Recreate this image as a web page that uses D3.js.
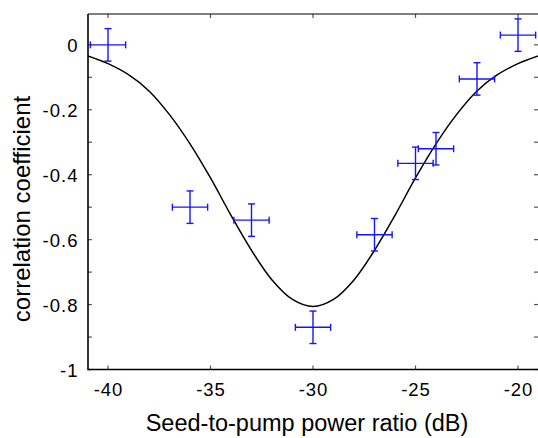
<!DOCTYPE html>
<html><head><meta charset="utf-8">
<script src="https://cdn.jsdelivr.net/npm/d3@7"></script>
<style>
html,body{margin:0;padding:0;background:#fff;}
svg{display:block;}
text{font-family:"Liberation Sans",Arial,Helvetica,sans-serif;fill:#000;}
</style></head>
<body>
<svg id="chart" width="538" height="438"></svg>
<script>
// Measured points (seed-to-pump power ratio in dB, correlation coefficient)
const xValues = [-40, -36, -33, -30, -27, -25, -24, -22, -20];
const yValues = [0.00, -0.50, -0.54, -0.87, -0.585, -0.365, -0.32, -0.105, 0.03];
const xErr = [0.86, 0.86, 0.86, 0.86, 0.86, 0.86, 0.86, 0.86, 0.86];
const yErr = [0.05, 0.05, 0.05, 0.05, 0.05, 0.05, 0.05, 0.05, 0.05];

// Theoretical curve
const curveX = [-41,-40,-39,-38,-37,-36,-35,-34,-33,-32,-31,-30,-29,-28,-27,-26,-25,-24,-23,-22,-21,-20,-19];
const curveY = [-0.034,-0.058,-0.092,-0.142,-0.215,-0.305,-0.41,-0.525,-0.633,-0.724,-0.784,-0.806,
                -0.784,-0.724,-0.633,-0.525,-0.41,-0.305,-0.215,-0.142,-0.092,-0.058,-0.034];

const xTicks = [-40, -35, -30, -25, -20];
const xTickLabels = ["-40", "-35", "-30", "-25", "-20"];
const yMajorTicks = [0, -0.2, -0.4, -0.6, -0.8, -1];
const yTickLabels = ["0", "-0.2", "-0.4", "-0.6", "-0.8", "-1"];
const yMinorTicks = [0, -0.1, -0.2, -0.3, -0.4, -0.5, -0.6, -0.7, -0.8, -0.9, -1];

const svg = d3.select("#chart");
const L = 88, R = 538.5, T = 14, B = 369.5;
const x = d3.scaleLinear().domain([-41, -19]).range([87.5, 538.5]);
const y = d3.scaleLinear().domain([-1, 0.095]).range([B, T]);

const tickLen = 4;
const tickColor = "#555";

// ticks: bottom & top (inward)
const gx = svg.append("g");
gx.selectAll("line.b").data(xTicks).join("line")
  .attr("x1", d => x(d)).attr("x2", d => x(d))
  .attr("y1", B).attr("y2", B - tickLen)
  .attr("stroke", tickColor).attr("stroke-width", 1.2);
gx.selectAll("line.t").data(xTicks).join("line").attr("class","t")
  .attr("x1", d => x(d)).attr("x2", d => x(d))
  .attr("y1", T).attr("y2", T + tickLen)
  .attr("stroke", tickColor).attr("stroke-width", 1.2);

// y ticks left and right
const gy = svg.append("g");
gy.selectAll("line.l").data(yMinorTicks).join("line").attr("class","l")
  .attr("x1", L).attr("x2", L + tickLen)
  .attr("y1", d => y(d)).attr("y2", d => y(d))
  .attr("stroke", tickColor).attr("stroke-width", 1.2);
gy.selectAll("line.r").data(yMinorTicks).join("line").attr("class","r")
  .attr("x1", 539).attr("x2", 539 - tickLen - 1)
  .attr("y1", d => y(d)).attr("y2", d => y(d))
  .attr("stroke", tickColor).attr("stroke-width", 1.2);

// frame
svg.append("line").attr("x1", L).attr("x2", L).attr("y1", T).attr("y2", B + 0.8)
  .attr("stroke", "#000").attr("stroke-width", 1.6);
svg.append("line").attr("x1", L).attr("x2", 540).attr("y1", B).attr("y2", B)
  .attr("stroke", "#000").attr("stroke-width", 1.6);
svg.append("line").attr("x1", L).attr("x2", 540).attr("y1", T).attr("y2", T)
  .attr("stroke", "#000").attr("stroke-width", 1.2);
svg.append("line").attr("x1", 539.5).attr("x2", 539.5).attr("y1", T).attr("y2", B)
  .attr("stroke", "#000").attr("stroke-width", 1.2);

// tick labels
svg.append("g").selectAll("text").data(xTicks).join("text")
  .attr("x", d => x(d) + 0.5).attr("y", 396)
  .attr("text-anchor", "middle")
  .attr("font-size", "18.5px").attr("letter-spacing", "1px")
  .text((d, i) => xTickLabels[i]);

svg.append("g").selectAll("text").data(yMajorTicks).join("text")
  .attr("x", 78.5).attr("y", d => y(d) + 7)
  .attr("text-anchor", "end")
  .attr("font-size", "18.5px").attr("letter-spacing", "1px")
  .text((d, i) => yTickLabels[i]);

// axis titles
svg.append("text").attr("x", 307).attr("y", 431)
  .attr("text-anchor", "middle").attr("font-size", "23.5px")
  .text("Seed-to-pump power ratio (dB)");
svg.append("text")
  .attr("transform", "translate(30,209) rotate(-90)")
  .attr("text-anchor", "middle").attr("font-size", "24px")
  .text("correlation coefficient");

// clip
svg.append("clipPath").attr("id", "clip").append("rect")
  .attr("x", L).attr("y", T).attr("width", R - L).attr("height", B - T);

// curve
const line = d3.line().x(d => x(d[0])).y(d => y(d[1])).curve(d3.curveCatmullRom);
svg.append("path").datum(curveX.map((cx, i) => [cx, curveY[i]]))
  .attr("d", line).attr("fill", "none").attr("stroke", "#000").attr("stroke-width", 1.5)
  .attr("clip-path", "url(#clip)");

// error bars
const pts = xValues.map((xv, i) => ({x: xv, y: yValues[i], ex: xErr[i], ey: yErr[i]}));
const cap = 3.5;
const eb = svg.append("g").attr("stroke", "#1414ff").attr("stroke-width", 1.4).attr("fill", "none");
pts.forEach(p => {
  const cx = x(p.x), cy = y(p.y);
  const x0 = x(p.x - p.ex), x1 = x(p.x + p.ex);
  const y0 = y(p.y + p.ey), y1 = y(p.y - p.ey);
  eb.append("line").attr("x1", x0).attr("x2", x1).attr("y1", cy).attr("y2", cy);
  eb.append("line").attr("x1", cx).attr("x2", cx).attr("y1", y0).attr("y2", y1);
  eb.append("line").attr("x1", x0).attr("x2", x0).attr("y1", cy - cap).attr("y2", cy + cap);
  eb.append("line").attr("x1", x1).attr("x2", x1).attr("y1", cy - cap).attr("y2", cy + cap);
  eb.append("line").attr("x1", cx - cap).attr("x2", cx + cap).attr("y1", y0).attr("y2", y0);
  eb.append("line").attr("x1", cx - cap).attr("x2", cx + cap).attr("y1", y1).attr("y2", y1);
});
</script>
</body></html>
